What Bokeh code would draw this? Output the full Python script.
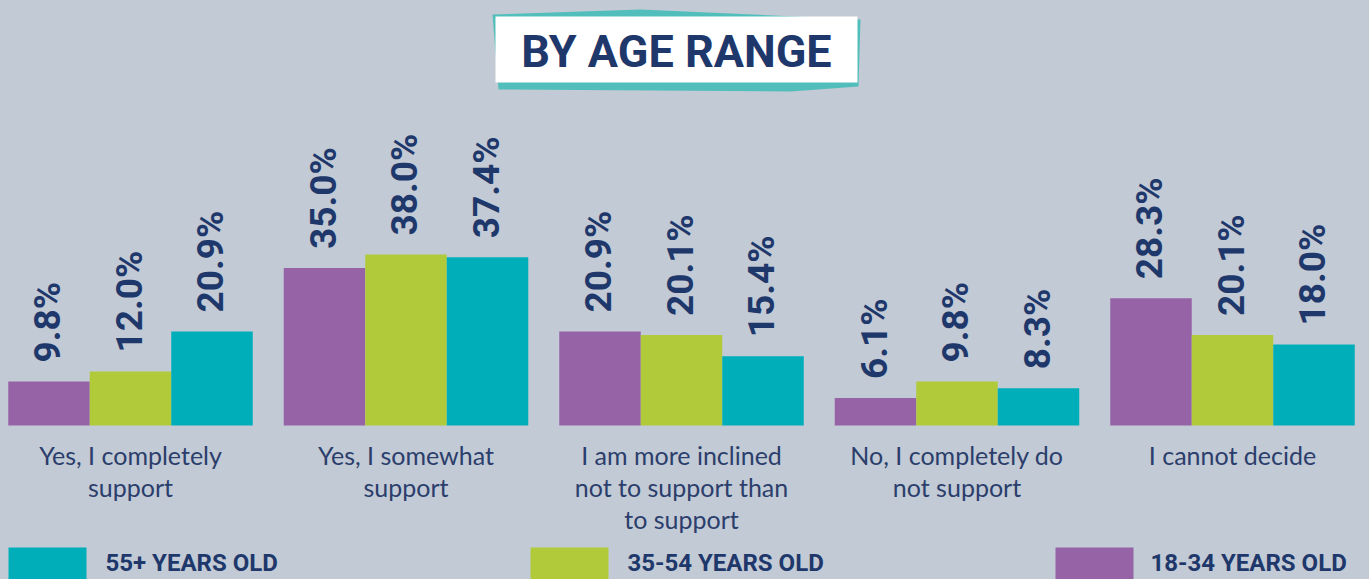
import math
from bokeh.plotting import figure
from bokeh.models import Range1d, BoxAnnotation, PolyAnnotation, Label
from bokeh.core.properties import value
from bokeh.embed import file_html
from bokeh.resources import INLINE

# ---------------- data ----------------
categories = [
    "Yes, I completely\nsupport",
    "Yes, I somewhat\nsupport",
    "I am more inclined\nnot to support than\nto support",
    "No, I completely do\nnot support",
    "I cannot decide",
]
series = ["18-34 YEARS OLD", "35-54 YEARS OLD", "55+ YEARS OLD"]
age_18_34 = [9.8, 35.0, 20.9, 6.1, 28.3]
age_35_54 = [12.0, 38.0, 20.1, 9.8, 20.1]
age_55_plus = [20.9, 37.4, 15.4, 8.3, 18.0]
title_text = "BY AGE RANGE"

# ---------------- style ----------------
colors = ["#9563A6", "#B1CA3A", "#00AEBA"]
NAVY = "#1F386B"
CAT_COLOR = "#2B3E6C"
BG = "#C2CAD5"
TEAL_SHADOW = "#52BEBB"

W, H = 1369, 579
PITCH = 275.5      # px per group
G0 = 130.0         # screen x of first group centre
BASE = 425.0       # screen y of baseline
K = 4.5            # px per percent

X0 = -G0 / PITCH
X1 = (W - G0) / PITCH
Y1 = BASE / K
Y0 = -(H - BASE) / K


def sx(px):
    return X0 + px * (X1 - X0) / W


def sy(py):
    return Y1 - py * (Y1 - Y0) / H


p = figure(width=W, height=H, output_backend="svg", toolbar_location=None,
           x_range=Range1d(X0, X1), y_range=Range1d(Y0, Y1),
           x_axis_location=None, y_axis_location=None,
           min_border=0, min_border_left=0, min_border_right=0,
           min_border_top=0, min_border_bottom=0)
p.background_fill_color = BG
p.border_fill_color = BG
p.outline_line_color = None
p.xgrid.visible = False
p.ygrid.visible = False

BW = 81.5 / PITCH
all_series = [age_18_34, age_35_54, age_55_plus]
offsets = [-BW, 0.0, BW]

for vals, col, off in zip(all_series, colors, offsets):
    xs = [i + off for i in range(len(vals))]
    p.vbar(x=xs, top=vals, bottom=0, width=BW, fill_color=col, line_color=None)
    p.text(x=[x - 1.5 / PITCH for x in xs], y=[v + 19 / K for v in vals],
           text=[f"{v:.1f}%" for v in vals], angle=math.pi / 2,
           text_align="left", text_baseline="middle",
           text_font=value("Roboto"), text_font_style="bold",
           text_font_size="37px", text_color=NAVY)

# category labels
cx, cy, ct = [], [], []
for i, cat in enumerate(categories):
    for j, line in enumerate(cat.split("\n")):
        cx.append(i)
        cy.append(sy(454 + 32 * j))
        ct.append(line)
p.text(x=cx, y=cy, text=ct, text_align="center", text_baseline="alphabetic",
       text_font=value("Lato"), text_font_size="25px", text_color=CAT_COLOR)

# legend (order as in reference: 55+, 35-54, 18-34)
legend_pos = [(8, 105), (530, 627), (1055, 1150)]
for (left, tx), idx in zip(legend_pos, [2, 1, 0]):
    p.add_layout(BoxAnnotation(left=sx(left), right=sx(left + 78),
                               top=sy(547), bottom=sy(H),
                               fill_color=colors[idx], fill_alpha=1.0,
                               line_color=None))
    p.add_layout(Label(x=sx(tx), y=sy(562), text=series[idx],
                       text_align="left", text_baseline="alphabetic",
                       text_font="Roboto", text_font_style="bold",
                       text_font_size="24px", text_color=NAVY))

# title box
shadow_x = [492, 640, 860, 858, 790, 498]
shadow_y = [14, 9, 19, 86, 91, 89]
p.add_layout(PolyAnnotation(xs=[sx(v) for v in shadow_x],
                            ys=[sy(v) for v in shadow_y],
                            fill_color=TEAL_SHADOW, fill_alpha=1.0,
                            line_color=None))
p.add_layout(BoxAnnotation(left=sx(495), right=sx(857), top=sy(16), bottom=sy(82),
                           fill_color="white", fill_alpha=1.0, line_color=None))
p.add_layout(Label(x=sx(676), y=sy(51), text=title_text,
                   text_align="center", text_baseline="alphabetic",
                   text_font="Roboto", text_font_style="bold",
                   text_font_size="45px", text_color=NAVY))

html = file_html(p, INLINE, title="By age range")
html = html.replace("<head>", "<head><style>html,body{background:%s;}</style>" % BG, 1)
open("out.html", "w").write(html)
